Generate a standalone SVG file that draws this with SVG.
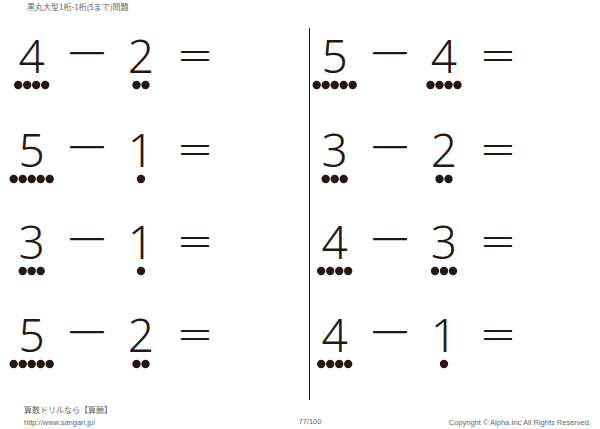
<svg xmlns="http://www.w3.org/2000/svg" width="600" height="429" viewBox="0 0 600 429">
<style>
.num{font-family:"Noto Sans","Liberation Sans",sans-serif;font-weight:300;font-size:46px;fill:#231815;text-anchor:middle}
.op{font-family:"Noto Sans CJK JP","Noto Sans",sans-serif;font-weight:300;font-size:46px;fill:#231815;text-anchor:middle}
.eq{font-family:"Noto Sans CJK JP","Noto Sans",sans-serif;font-weight:300;font-size:38px;fill:#231815;text-anchor:middle}
.dot{fill:#231815}
.hdr{font-family:"Noto Sans CJK JP",sans-serif;font-size:8px;fill:#666666}
.ft{font-family:"Liberation Sans","Noto Sans CJK JP",sans-serif;font-size:7.5px;fill:#666666}
</style>
<defs><circle id="d" r="4.2" class="dot"/></defs>
<rect width="600" height="429" fill="#fff"/>
<text class="hdr" x="27" y="10">黒丸大型1桁-1桁(5まで)問題</text>
<line x1="309.5" y1="28" x2="309.5" y2="400" stroke="#231815" stroke-width="1"/>

<g id="p1" transform="translate(0,0)">
<text class="num" x="31.7" y="73">4</text><text class="op" x="87" y="70">－</text><text class="num" x="141" y="73">2</text><text class="eq" x="195" y="70">＝</text>
<use href="#d" x="18.2" y="85"/><use href="#d" x="27.2" y="85"/><use href="#d" x="36.2" y="85"/><use href="#d" x="45.2" y="85"/>
<use href="#d" x="136.5" y="85"/><use href="#d" x="145.5" y="85"/>
</g>
<g id="p2" transform="translate(0,94)">
<text class="num" x="31.7" y="73">5</text><text class="op" x="87" y="70">－</text><text class="num" x="141" y="73">1</text><text class="eq" x="195" y="70">＝</text>
<use href="#d" x="13.7" y="85"/><use href="#d" x="22.7" y="85"/><use href="#d" x="31.7" y="85"/><use href="#d" x="40.7" y="85"/><use href="#d" x="49.7" y="85"/>
<use href="#d" x="141" y="85"/>
</g>
<g id="p3" transform="translate(0,186)">
<text class="num" x="31.7" y="73">3</text><text class="op" x="87" y="70">－</text><text class="num" x="141" y="73">1</text><text class="eq" x="195" y="70">＝</text>
<use href="#d" x="22.7" y="85"/><use href="#d" x="31.7" y="85"/><use href="#d" x="40.7" y="85"/>
<use href="#d" x="141" y="85"/>
</g>
<g id="p4" transform="translate(0,279)">
<text class="num" x="31.7" y="73">5</text><text class="op" x="87" y="70">－</text><text class="num" x="141" y="73">2</text><text class="eq" x="195" y="70">＝</text>
<use href="#d" x="13.7" y="85"/><use href="#d" x="22.7" y="85"/><use href="#d" x="31.7" y="85"/><use href="#d" x="40.7" y="85"/><use href="#d" x="49.7" y="85"/>
<use href="#d" x="136.5" y="85"/><use href="#d" x="145.5" y="85"/>
</g>
<g id="p5" transform="translate(303,0)">
<text class="num" x="31.7" y="73">5</text><text class="op" x="87" y="70">－</text><text class="num" x="141" y="73">4</text><text class="eq" x="195" y="70">＝</text>
<use href="#d" x="13.7" y="85"/><use href="#d" x="22.7" y="85"/><use href="#d" x="31.7" y="85"/><use href="#d" x="40.7" y="85"/><use href="#d" x="49.7" y="85"/>
<use href="#d" x="127.5" y="85"/><use href="#d" x="136.5" y="85"/><use href="#d" x="145.5" y="85"/><use href="#d" x="154.5" y="85"/>
</g>
<g id="p6" transform="translate(303,94)">
<text class="num" x="31.7" y="73">3</text><text class="op" x="87" y="70">－</text><text class="num" x="141" y="73">2</text><text class="eq" x="195" y="70">＝</text>
<use href="#d" x="22.7" y="85"/><use href="#d" x="31.7" y="85"/><use href="#d" x="40.7" y="85"/>
<use href="#d" x="136.5" y="85"/><use href="#d" x="145.5" y="85"/>
</g>
<g id="p7" transform="translate(303,186)">
<text class="num" x="31.7" y="73">4</text><text class="op" x="87" y="70">－</text><text class="num" x="141" y="73">3</text><text class="eq" x="195" y="70">＝</text>
<use href="#d" x="18.2" y="85"/><use href="#d" x="27.2" y="85"/><use href="#d" x="36.2" y="85"/><use href="#d" x="45.2" y="85"/>
<use href="#d" x="132" y="85"/><use href="#d" x="141" y="85"/><use href="#d" x="150" y="85"/>
</g>
<g id="p8" transform="translate(303,279)">
<text class="num" x="31.7" y="73">4</text><text class="op" x="87" y="70">－</text><text class="num" x="141" y="73">1</text><text class="eq" x="195" y="70">＝</text>
<use href="#d" x="18.2" y="85"/><use href="#d" x="27.2" y="85"/><use href="#d" x="36.2" y="85"/><use href="#d" x="45.2" y="85"/>
<use href="#d" x="141" y="85"/>
</g>

<text class="hdr" x="24" y="413">算数ドリルなら【算願】</text>
<text class="ft" x="24" y="425">http://www.sangan.jp/</text>
<text class="ft" x="310" y="424" text-anchor="middle">77/100</text>
<text class="ft" x="591" y="425" text-anchor="end" font-size="7.2">Copyright © Alpha.Inc All Rights Reserved.</text>
</svg>
